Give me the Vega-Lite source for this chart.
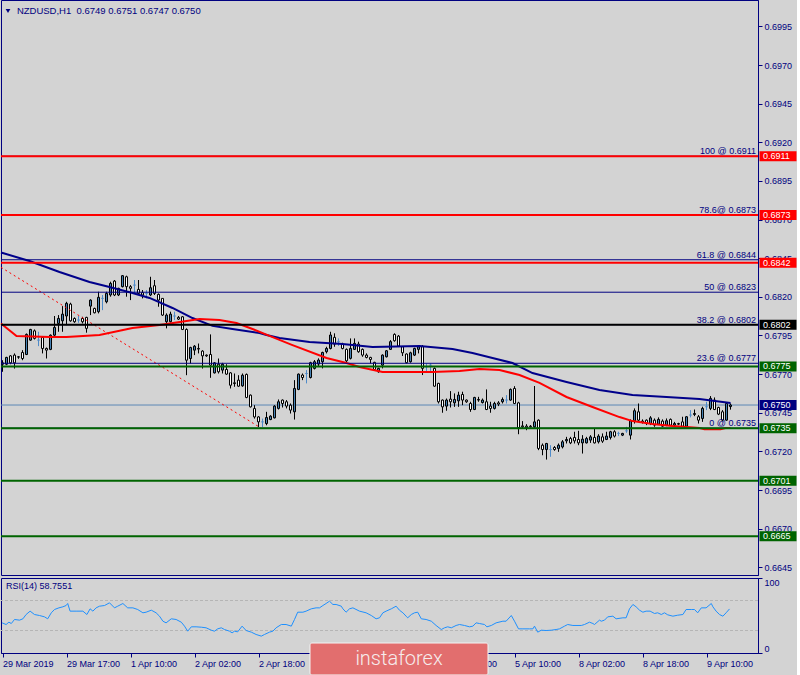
{
"$schema":"https://vega.github.io/schema/vega-lite/v6.json",
"background":"#D3D3D3",
"padding":{"left":-4,"top":-1,"right":0,"bottom":0},
"spacing":3,
"bounds":"flush",
"config":{
 "view":{"stroke":"#000080","strokeWidth":1},
 "axis":{"labelFont":"Liberation Sans","labelFontSize":9,"labelColor":"#000080","tickColor":"#000080","domainColor":"#000080","grid":false,"tickSize":4,"labelPadding":2},
 "text":{"font":"Liberation Sans"}
},
"datasets":{
"candles":[
{"i":0,"o":0.67764,"h":0.6779,"l":0.67715,"c":0.67773},
{"i":1,"o":0.67764,"h":0.67812,"l":0.67758,"c":0.67808},
{"i":2,"o":0.67818,"h":0.67823,"l":0.67764,"c":0.67773},
{"i":3,"o":0.67823,"h":0.67834,"l":0.67736,"c":0.67773},
{"i":4,"o":0.6781,"h":0.67816,"l":0.67799,"c":0.67812},
{"i":5,"o":0.6784,"h":0.67855,"l":0.6779,"c":0.67801},
{"i":6,"o":0.67827,"h":0.67963,"l":0.67823,"c":0.67957},
{"i":7,"o":0.6792,"h":0.67993,"l":0.67916,"c":0.67989},
{"i":8,"o":0.6798,"h":0.67989,"l":0.67924,"c":0.67931},
{"i":9,"o":0.6792,"h":0.67974,"l":0.67881,"c":0.6792},
{"i":10,"o":0.67937,"h":0.67942,"l":0.67834,"c":0.67866},
{"i":11,"o":0.67866,"h":0.67872,"l":0.67801,"c":0.67855},
{"i":12,"o":0.6786,"h":0.67957,"l":0.67855,"c":0.67952},
{"i":13,"o":0.67952,"h":0.68076,"l":0.67942,"c":0.68002},
{"i":14,"o":0.68028,"h":0.68082,"l":0.67974,"c":0.6806},
{"i":15,"o":0.68045,"h":0.6814,"l":0.67974,"c":0.68088},
{"i":16,"o":0.68076,"h":0.68168,"l":0.68017,"c":0.68158},
{"i":17,"o":0.68153,"h":0.68162,"l":0.68039,"c":0.68045},
{"i":18,"o":0.6806,"h":0.68067,"l":0.68032,"c":0.68039},
{"i":19,"o":0.6805,"h":0.68076,"l":0.68032,"c":0.6805},
{"i":20,"o":0.6806,"h":0.68071,"l":0.68028,"c":0.68039},
{"i":21,"o":0.68067,"h":0.68071,"l":0.67968,"c":0.67996},
{"i":22,"o":0.6814,"h":0.68184,"l":0.68082,"c":0.68179},
{"i":23,"o":0.68125,"h":0.6813,"l":0.68093,"c":0.68097},
{"i":24,"o":0.68104,"h":0.68233,"l":0.68093,"c":0.68197},
{"i":25,"o":0.6819,"h":0.68212,"l":0.68114,"c":0.6819},
{"i":26,"o":0.68168,"h":0.68233,"l":0.68158,"c":0.68222},
{"i":27,"o":0.68212,"h":0.68298,"l":0.68201,"c":0.68287},
{"i":28,"o":0.68302,"h":0.68309,"l":0.68205,"c":0.68212},
{"i":29,"o":0.68212,"h":0.68259,"l":0.68205,"c":0.68255},
{"i":30,"o":0.68266,"h":0.68341,"l":0.68261,"c":0.68337},
{"i":31,"o":0.6833,"h":0.68337,"l":0.68201,"c":0.68266},
{"i":32,"o":0.68266,"h":0.68276,"l":0.68179,"c":0.68255},
{"i":33,"o":0.68276,"h":0.68309,"l":0.68222,"c":0.68276},
{"i":34,"o":0.68248,"h":0.68309,"l":0.68212,"c":0.68222},
{"i":35,"o":0.68227,"h":0.68244,"l":0.6819,"c":0.68212},
{"i":36,"o":0.68222,"h":0.68244,"l":0.6819,"c":0.68222},
{"i":37,"o":0.68212,"h":0.6833,"l":0.68205,"c":0.68259},
{"i":38,"o":0.68272,"h":0.68309,"l":0.68212,"c":0.68222},
{"i":39,"o":0.68216,"h":0.68222,"l":0.68136,"c":0.68179},
{"i":40,"o":0.6819,"h":0.6819,"l":0.68076,"c":0.68082},
{"i":41,"o":0.68039,"h":0.68093,"l":0.67996,"c":0.68082},
{"i":42,"o":0.68039,"h":0.68104,"l":0.68034,"c":0.68088},
{"i":43,"o":0.68076,"h":0.68104,"l":0.6805,"c":0.68076},
{"i":44,"o":0.68067,"h":0.68076,"l":0.6805,"c":0.68056},
{"i":45,"o":0.68071,"h":0.68076,"l":0.67985,"c":0.67989},
{"i":46,"o":0.67989,"h":0.67996,"l":0.67693,"c":0.6779},
{"i":47,"o":0.67801,"h":0.67877,"l":0.67769,"c":0.67872},
{"i":48,"o":0.67855,"h":0.67888,"l":0.67823,"c":0.67881},
{"i":49,"o":0.67866,"h":0.67898,"l":0.67834,"c":0.67862},
{"i":50,"o":0.67849,"h":0.67855,"l":0.67736,"c":0.67818},
{"i":51,"o":0.67823,"h":0.67827,"l":0.67812,"c":0.67818},
{"i":52,"o":0.67827,"h":0.67957,"l":0.67676,"c":0.67758},
{"i":53,"o":0.67708,"h":0.67777,"l":0.67704,"c":0.67773},
{"i":54,"o":0.67764,"h":0.67801,"l":0.67704,"c":0.67715},
{"i":55,"o":0.67726,"h":0.67773,"l":0.67704,"c":0.67764},
{"i":56,"o":0.6773,"h":0.67764,"l":0.67695,"c":0.677},
{"i":57,"o":0.67708,"h":0.67713,"l":0.67607,"c":0.67628},
{"i":58,"o":0.67644,"h":0.67704,"l":0.67618,"c":0.67639},
{"i":59,"o":0.67661,"h":0.67693,"l":0.67618,"c":0.67622},
{"i":60,"o":0.67624,"h":0.67704,"l":0.67618,"c":0.67693},
{"i":61,"o":0.67698,"h":0.67704,"l":0.67544,"c":0.67549},
{"i":62,"o":0.67564,"h":0.67568,"l":0.67484,"c":0.67488},
{"i":63,"o":0.67477,"h":0.67499,"l":0.67412,"c":0.67423},
{"i":64,"o":0.67423,"h":0.67428,"l":0.67358,"c":0.67391},
{"i":65,"o":0.67391,"h":0.67412,"l":0.67358,"c":0.67391},
{"i":66,"o":0.6738,"h":0.67456,"l":0.67369,"c":0.67419},
{"i":67,"o":0.67406,"h":0.67434,"l":0.67402,"c":0.67428},
{"i":68,"o":0.67417,"h":0.67499,"l":0.67413,"c":0.67493},
{"i":69,"o":0.67478,"h":0.67536,"l":0.67471,"c":0.67521},
{"i":70,"o":0.67532,"h":0.67536,"l":0.67484,"c":0.6751},
{"i":71,"o":0.67521,"h":0.67532,"l":0.67478,"c":0.67493},
{"i":72,"o":0.67499,"h":0.6751,"l":0.67445,"c":0.67467},
{"i":73,"o":0.67456,"h":0.67661,"l":0.67406,"c":0.67607},
{"i":74,"o":0.67601,"h":0.67704,"l":0.67596,"c":0.677},
{"i":75,"o":0.67694,"h":0.67704,"l":0.67661,"c":0.67678},
{"i":76,"o":0.67704,"h":0.67726,"l":0.6764,"c":0.67704},
{"i":77,"o":0.67678,"h":0.6778,"l":0.67672,"c":0.67774},
{"i":78,"o":0.67737,"h":0.67791,"l":0.6773,"c":0.6778},
{"i":79,"o":0.67765,"h":0.67802,"l":0.67748,"c":0.67791},
{"i":80,"o":0.6778,"h":0.67845,"l":0.67737,"c":0.6784},
{"i":81,"o":0.67845,"h":0.67877,"l":0.67834,"c":0.67866},
{"i":82,"o":0.67866,"h":0.67974,"l":0.6786,"c":0.67953},
{"i":83,"o":0.67938,"h":0.67964,"l":0.67877,"c":0.67894},
{"i":84,"o":0.6791,"h":0.67931,"l":0.67882,"c":0.6791},
{"i":85,"o":0.67894,"h":0.67903,"l":0.6786,"c":0.67866},
{"i":86,"o":0.6786,"h":0.67866,"l":0.67769,"c":0.67786},
{"i":87,"o":0.67802,"h":0.67931,"l":0.67795,"c":0.67866},
{"i":88,"o":0.6786,"h":0.67931,"l":0.67856,"c":0.67899},
{"i":89,"o":0.67894,"h":0.6791,"l":0.67838,"c":0.67845},
{"i":90,"o":0.6786,"h":0.67866,"l":0.67812,"c":0.67823},
{"i":91,"o":0.67823,"h":0.67834,"l":0.67802,"c":0.67808},
{"i":92,"o":0.67808,"h":0.67812,"l":0.67769,"c":0.67795},
{"i":93,"o":0.67776,"h":0.6778,"l":0.67726,"c":0.6773},
{"i":94,"o":0.67715,"h":0.67741,"l":0.67709,"c":0.67737},
{"i":95,"o":0.67758,"h":0.67828,"l":0.67737,"c":0.67823},
{"i":96,"o":0.67812,"h":0.67856,"l":0.67808,"c":0.67851},
{"i":97,"o":0.6786,"h":0.6792,"l":0.67856,"c":0.6791},
{"i":98,"o":0.67957,"h":0.67964,"l":0.6791,"c":0.67916},
{"i":99,"o":0.67946,"h":0.67953,"l":0.67877,"c":0.67882},
{"i":100,"o":0.67877,"h":0.67882,"l":0.67817,"c":0.67838},
{"i":101,"o":0.6783,"h":0.67834,"l":0.67769,"c":0.67774},
{"i":102,"o":0.6778,"h":0.67845,"l":0.67774,"c":0.67838},
{"i":103,"o":0.67823,"h":0.67871,"l":0.67817,"c":0.67866},
{"i":104,"o":0.6786,"h":0.67888,"l":0.67834,"c":0.67877},
{"i":105,"o":0.67877,"h":0.67888,"l":0.67694,"c":0.67737},
{"i":106,"o":0.67748,"h":0.67769,"l":0.67715,"c":0.67748},
{"i":107,"o":0.67758,"h":0.67769,"l":0.67715,"c":0.67758},
{"i":108,"o":0.67737,"h":0.67743,"l":0.67618,"c":0.67622},
{"i":109,"o":0.6764,"h":0.67644,"l":0.6751,"c":0.67521},
{"i":110,"o":0.67532,"h":0.67536,"l":0.6745,"c":0.67488},
{"i":111,"o":0.67493,"h":0.67542,"l":0.67463,"c":0.67532},
{"i":112,"o":0.67538,"h":0.6759,"l":0.67484,"c":0.67521},
{"i":113,"o":0.67514,"h":0.67575,"l":0.67488,"c":0.67536},
{"i":114,"o":0.67527,"h":0.67586,"l":0.67488,"c":0.67564},
{"i":115,"o":0.67568,"h":0.67586,"l":0.67499,"c":0.67532},
{"i":116,"o":0.67532,"h":0.67536,"l":0.67514,"c":0.67521},
{"i":117,"o":0.6751,"h":0.67521,"l":0.67456,"c":0.67471},
{"i":118,"o":0.67471,"h":0.67553,"l":0.67467,"c":0.67549},
{"i":119,"o":0.67536,"h":0.67553,"l":0.67521,"c":0.67532},
{"i":120,"o":0.67516,"h":0.67542,"l":0.6751,"c":0.67532},
{"i":121,"o":0.67521,"h":0.67601,"l":0.67467,"c":0.67471},
{"i":122,"o":0.67493,"h":0.67521,"l":0.6745,"c":0.67478},
{"i":123,"o":0.67478,"h":0.67521,"l":0.67471,"c":0.6751},
{"i":124,"o":0.67514,"h":0.67525,"l":0.67493,"c":0.67506},
{"i":125,"o":0.67521,"h":0.67549,"l":0.6751,"c":0.67536},
{"i":126,"o":0.67532,"h":0.67564,"l":0.6751,"c":0.67532},
{"i":127,"o":0.67532,"h":0.67607,"l":0.67527,"c":0.67601},
{"i":128,"o":0.67607,"h":0.67622,"l":0.67506,"c":0.6751},
{"i":129,"o":0.67514,"h":0.67521,"l":0.67311,"c":0.67354},
{"i":130,"o":0.67365,"h":0.67396,"l":0.67348,"c":0.67359},
{"i":131,"o":0.67363,"h":0.67376,"l":0.67337,"c":0.67354},
{"i":132,"o":0.67363,"h":0.6737,"l":0.67355,"c":0.67359},
{"i":133,"o":0.67359,"h":0.67623,"l":0.67348,"c":0.67391},
{"i":134,"o":0.67402,"h":0.67407,"l":0.67208,"c":0.67219},
{"i":135,"o":0.6724,"h":0.67251,"l":0.67175,"c":0.67212},
{"i":136,"o":0.67212,"h":0.67255,"l":0.67147,"c":0.67251},
{"i":137,"o":0.67212,"h":0.6724,"l":0.67165,"c":0.67212},
{"i":138,"o":0.67225,"h":0.67234,"l":0.67204,"c":0.67212},
{"i":139,"o":0.67219,"h":0.67251,"l":0.67197,"c":0.6724},
{"i":140,"o":0.67229,"h":0.67273,"l":0.67219,"c":0.67262},
{"i":141,"o":0.67268,"h":0.67294,"l":0.67251,"c":0.67277},
{"i":142,"o":0.67283,"h":0.67294,"l":0.67247,"c":0.67255},
{"i":143,"o":0.6729,"h":0.67327,"l":0.67251,"c":0.67268},
{"i":144,"o":0.67277,"h":0.67333,"l":0.6724,"c":0.67255},
{"i":145,"o":0.67255,"h":0.67305,"l":0.67186,"c":0.67279},
{"i":146,"o":0.67255,"h":0.67294,"l":0.67251,"c":0.67283},
{"i":147,"o":0.67273,"h":0.67305,"l":0.67255,"c":0.67294},
{"i":148,"o":0.6729,"h":0.67348,"l":0.67251,"c":0.67255},
{"i":149,"o":0.67262,"h":0.67311,"l":0.67251,"c":0.67299},
{"i":150,"o":0.67294,"h":0.67316,"l":0.67255,"c":0.67266},
{"i":151,"o":0.67277,"h":0.67327,"l":0.67273,"c":0.67299},
{"i":152,"o":0.6729,"h":0.67333,"l":0.67277,"c":0.67327},
{"i":153,"o":0.67327,"h":0.67337,"l":0.6729,"c":0.67299},
{"i":154,"o":0.67316,"h":0.67327,"l":0.67299,"c":0.67316},
{"i":155,"o":0.67305,"h":0.6732,"l":0.67299,"c":0.67316},
{"i":156,"o":0.67333,"h":0.67359,"l":0.6732,"c":0.67333},
{"i":157,"o":0.67305,"h":0.67407,"l":0.67277,"c":0.67398},
{"i":158,"o":0.67398,"h":0.67478,"l":0.6738,"c":0.67463},
{"i":159,"o":0.67456,"h":0.6751,"l":0.67391,"c":0.67402},
{"i":160,"o":0.67396,"h":0.67407,"l":0.6738,"c":0.67389},
{"i":161,"o":0.67402,"h":0.67407,"l":0.6737,"c":0.6738},
{"i":162,"o":0.6738,"h":0.67428,"l":0.6737,"c":0.67417},
{"i":163,"o":0.67402,"h":0.67413,"l":0.67359,"c":0.6737},
{"i":164,"o":0.67376,"h":0.6742,"l":0.6737,"c":0.67407},
{"i":165,"o":0.67396,"h":0.67407,"l":0.67359,"c":0.67363},
{"i":166,"o":0.6737,"h":0.67413,"l":0.67363,"c":0.67398},
{"i":167,"o":0.67407,"h":0.67413,"l":0.67363,"c":0.6737},
{"i":168,"o":0.6737,"h":0.67391,"l":0.67363,"c":0.6738},
{"i":169,"o":0.6738,"h":0.67385,"l":0.6737,"c":0.67376},
{"i":170,"o":0.67391,"h":0.67424,"l":0.67359,"c":0.67363},
{"i":171,"o":0.67363,"h":0.67428,"l":0.67359,"c":0.67424},
{"i":172,"o":0.67435,"h":0.67467,"l":0.6742,"c":0.67435},
{"i":173,"o":0.67439,"h":0.67471,"l":0.67428,"c":0.67445},
{"i":174,"o":0.67424,"h":0.67435,"l":0.6738,"c":0.67402},
{"i":175,"o":0.67413,"h":0.67489,"l":0.67391,"c":0.67478},
{"i":176,"o":0.67489,"h":0.67521,"l":0.67467,"c":0.67489},
{"i":177,"o":0.67478,"h":0.67558,"l":0.67467,"c":0.67543},
{"i":178,"o":0.67532,"h":0.67549,"l":0.67467,"c":0.67471},
{"i":179,"o":0.67484,"h":0.67489,"l":0.67435,"c":0.67441},
{"i":180,"o":0.67456,"h":0.67467,"l":0.67396,"c":0.67402},
{"i":181,"o":0.67402,"h":0.67515,"l":0.67398,"c":0.6751},
{"i":182,"o":0.6749,"h":0.6751,"l":0.6747,"c":0.675}
],
"maSlow":[
{"i":-0.375,"v":0.68487},{"i":6.75,"v":0.68432},{"i":14.25,"v":0.68361},{"i":21.75,"v":0.68296},{"i":26.75,"v":0.68264},{"i":32.5,"v":0.68225},{"i":36.75,"v":0.68193},{"i":42.5,"v":0.68128},{"i":47.5,"v":0.68063},{"i":52.5,"v":0.68012},{"i":57.5,"v":0.67992},{"i":64.25,"v":0.67966},{"i":66,"v":0.67953},{"i":69.25,"v":0.67934},{"i":76.75,"v":0.67908},{"i":85,"v":0.67895},{"i":92.5,"v":0.67875},{"i":104.25,"v":0.67882},{"i":112.5,"v":0.67863},{"i":117.5,"v":0.67837},{"i":122.5,"v":0.67804},{"i":127.5,"v":0.67772},{"i":132.5,"v":0.67707},{"i":141,"v":0.67649},{"i":149.25,"v":0.67597},{"i":157.5,"v":0.67565},{"i":166,"v":0.67552},{"i":174.25,"v":0.67539},{"i":182,"v":0.67513}
],
"maFast":[
{"i":-0.375,"v":0.68027},{"i":3.5,"v":0.67947},{"i":11.75,"v":0.6794},{"i":16,"v":0.6794},{"i":24.25,"v":0.67953},{"i":32.5,"v":0.67998},{"i":39.25,"v":0.68018},{"i":46,"v":0.68044},{"i":49.25,"v":0.68057},{"i":54.25,"v":0.6805},{"i":58.5,"v":0.68031},{"i":62.5,"v":0.67992},{"i":66.75,"v":0.67947},{"i":72.5,"v":0.67888},{"i":81,"v":0.67804},{"i":86,"v":0.67772},{"i":89.25,"v":0.67746},{"i":95,"v":0.67714},{"i":101.75,"v":0.67714},{"i":107.5,"v":0.67714},{"i":114.25,"v":0.6772},{"i":119.25,"v":0.67733},{"i":124.25,"v":0.67727},{"i":129.25,"v":0.67694},{"i":134.25,"v":0.67643},{"i":141,"v":0.67552},{"i":147.5,"v":0.67487},{"i":154.25,"v":0.67422},{"i":157.5,"v":0.67396},{"i":162.5,"v":0.67377},{"i":167.5,"v":0.67364},{"i":171,"v":0.67357},{"i":174.25,"v":0.67351},{"i":175.5,"v":0.67344},{"i":179.5,"v":0.67344},{"i":180.75,"v":0.67351},{"i":182,"v":0.67351}
],
"fibLine":[{"i":-0.375,"v":0.68391},{"i":64.6,"v":0.67351}],
"fib":[
{"label":"100 @ 0.6911","p":0.6911},{"label":"78.6@ 0.6873","p":0.6873},{"label":"61.8 @ 0.6844","p":0.6844},{"label":"50 @ 0.6823","p":0.6823},{"label":"38.2 @ 0.6802","p":0.6802},{"label":"23.6 @ 0.6777","p":0.6777},{"label":"0 @ 0.6735","p":0.6735}
],
"levels":[
{"p":0.6911,"kind":"resistance"},{"p":0.6873,"kind":"resistance"},{"p":0.6842,"kind":"resistance"},{"p":0.6802,"kind":"pivot"},{"p":0.6775,"kind":"support"},{"p":0.675,"kind":"bid"},{"p":0.6735,"kind":"support"},{"p":0.6701,"kind":"support"},{"p":0.6665,"kind":"support"}
],
"rsi":[
{"i":-0.1,"v":40.2},{"i":0.9,"v":38.0},{"i":1.6,"v":41.1},{"i":2.2,"v":39.3},{"i":3,"v":44.7},{"i":4.25,"v":43.8},{"i":5.1,"v":45.6},{"i":5.9,"v":51.3},{"i":6.9,"v":55.8},{"i":8,"v":51.3},{"i":9.25,"v":50.0},{"i":10.5,"v":48.2},{"i":11.3,"v":45.6},{"i":12.2,"v":53.6},{"i":13,"v":58.0},{"i":14.1,"v":60.2},{"i":15.1,"v":61.6},{"i":15.9,"v":63.3},{"i":16.3,"v":66.0},{"i":16.9,"v":55.8},{"i":18.4,"v":55.8},{"i":20.1,"v":55.8},{"i":21.1,"v":51.3},{"i":21.9,"v":58.9},{"i":22.6,"v":55.8},{"i":23.4,"v":60.2},{"i":24.25,"v":62.4},{"i":25.5,"v":63.3},{"i":26.75,"v":66.9},{"i":28,"v":60.2},{"i":28.8,"v":62.4},{"i":30.1,"v":66.0},{"i":31.3,"v":60.2},{"i":32.6,"v":60.2},{"i":33.8,"v":58.0},{"i":35.1,"v":53.6},{"i":35.9,"v":54.4},{"i":37.2,"v":57.1},{"i":38.4,"v":53.6},{"i":39.25,"v":49.1},{"i":40.1,"v":42.4},{"i":40.9,"v":40.2},{"i":42.2,"v":45.6},{"i":43.4,"v":44.7},{"i":44.7,"v":41.1},{"i":45.5,"v":35.8},{"i":46.3,"v":29.1},{"i":47.2,"v":34.9},{"i":48.4,"v":34.9},{"i":49.7,"v":34.4},{"i":50.9,"v":33.6},{"i":52.2,"v":30.4},{"i":53,"v":29.1},{"i":53.8,"v":32.2},{"i":54.7,"v":33.6},{"i":55.5,"v":31.3},{"i":56.75,"v":29.1},{"i":57.4,"v":26.9},{"i":58,"v":29.1},{"i":58.8,"v":28.2},{"i":59.9,"v":35.8},{"i":60.9,"v":30.0},{"i":62.2,"v":27.8},{"i":63.4,"v":24.7},{"i":64.7,"v":22.5},{"i":65.5,"v":24.7},{"i":66.75,"v":27.8},{"i":67.6,"v":29.1},{"i":68.4,"v":33.6},{"i":69.7,"v":38.0},{"i":70.9,"v":38.0},{"i":72.2,"v":35.8},{"i":73,"v":44.7},{"i":73.8,"v":54.4},{"i":75.1,"v":54.4},{"i":75.9,"v":55.8},{"i":77.2,"v":58.9},{"i":78.4,"v":60.2},{"i":79.25,"v":60.2},{"i":80.1,"v":63.3},{"i":80.9,"v":66.0},{"i":81.75,"v":69.1},{"i":82.6,"v":64.7},{"i":83.4,"v":64.7},{"i":84.7,"v":62.4},{"i":85.1,"v":58.9},{"i":85.9,"v":54.4},{"i":86.75,"v":58.9},{"i":87.6,"v":60.2},{"i":89.25,"v":55.8},{"i":90.9,"v":53.6},{"i":92.2,"v":50.0},{"i":93.4,"v":45.6},{"i":94.25,"v":46.9},{"i":95.1,"v":53.6},{"i":95.9,"v":55.8},{"i":97.2,"v":58.9},{"i":98.4,"v":62.4},{"i":99.25,"v":57.0},
{"i":100.1,"v":53.6},{"i":100.9,"v":49.1},{"i":101.3,"v":46.9},{"i":102.2,"v":51.3},{"i":103,"v":53.6},{"i":103.8,"v":54.4},{"i":104.7,"v":45.6},{"i":105.9,"v":44.7},{"i":107.2,"v":42.4},{"i":108.4,"v":36.7},{"i":109.7,"v":31.3},{"i":110.5,"v":33.6},{"i":111.3,"v":34.9},{"i":112.2,"v":33.6},{"i":113.4,"v":36.7},{"i":114.25,"v":38.0},{"i":115.5,"v":36.7},{"i":116.75,"v":34.9},{"i":117.6,"v":35.8},{"i":118.4,"v":40.2},{"i":119.25,"v":39.3},{"i":120.5,"v":38.0},{"i":121.1,"v":34.9},{"i":122.2,"v":36.7},{"i":123.4,"v":40.2},{"i":125.1,"v":42.4},{"i":125.9,"v":42.4},{"i":127.2,"v":50.0},{"i":128,"v":42.4},{"i":129,"v":32.2},{"i":130.1,"v":32.2},{"i":131.75,"v":32.2},{"i":132.6,"v":32.2},{"i":133,"v":35.8},{"i":133.8,"v":27.8},{"i":134.7,"v":30.4},{"i":135.9,"v":30.0},{"i":137.2,"v":30.4},{"i":138.4,"v":31.3},{"i":139.25,"v":32.2},{"i":140.5,"v":35.8},{"i":141.3,"v":38.0},{"i":142.6,"v":36.7},{"i":144.7,"v":36.7},{"i":145.5,"v":38.0},{"i":146.75,"v":41.1},{"i":147.6,"v":39.3},{"i":148,"v":38.0},{"i":149.25,"v":43.8},{"i":149.7,"v":42.4},{"i":150.5,"v":43.8},{"i":151.3,"v":48.2},{"i":152.6,"v":49.1},{"i":153.4,"v":45.6},{"i":155.1,"v":46.9},{"i":155.9,"v":46.9},{"i":156.75,"v":58.9},{"i":157.6,"v":64.7},{"i":158.4,"v":61.6},{"i":159.25,"v":57.1},{"i":160.1,"v":54.4},{"i":160.9,"v":55.8},{"i":161.9,"v":55.8},{"i":163,"v":52.7},{"i":163.8,"v":53.6},{"i":164.7,"v":51.3},{"i":165.5,"v":53.6},{"i":166.3,"v":50.9},{"i":167.6,"v":49.1},{"i":168.8,"v":50.4},{"i":170.1,"v":51.3},{"i":170.9,"v":58.0},{"i":172.2,"v":58.0},{"i":173,"v":58.0},{"i":173.8,"v":53.6},{"i":174.7,"v":60.2},{"i":175.9,"v":60.2},{"i":177.2,"v":66.0},{"i":177.6,"v":61.6},{"i":178.4,"v":55.8},{"i":179.25,"v":51.3},{"i":180.1,"v":49.1},{"i":180.9,"v":53.6},{"i":181.75,"v":58.76}
]
},
"vconcat":[
{
"width":757,"height":575,
"layer":[
{"data":{"values":[{"p":0.675}]},
 "mark":{"type":"rule","stroke":"#5B87B5","strokeWidth":1},
 "encoding":{"y":{"field":"p","type":"quantitative","scale":{"domain":[0.664,0.70121],"nice":false,"zero":false},
   "axis":{"orient":"right","title":null,"values":[0.6645,0.667,0.6695,0.672,0.6745,0.677,0.6795,0.682,0.6845,0.687,0.6895,0.692,0.6945,0.697,0.6995],"format":".4f","labelOverlap":false,"labelBound":false}}}},
{"data":{"name":"candles"},
 "mark":{"type":"rule","strokeWidth":1},
 "encoding":{
  "x":{"field":"i","type":"quantitative","scale":{"domain":[-0.375,188.875],"nice":false,"zero":false},"axis":null},
  "y":{"field":"l","type":"quantitative"},"y2":{"field":"h"},
  "stroke":{"condition":{"test":"datum.o == datum.c","value":"#4F8BC9"},"value":"#000000"}}},
{"data":{"name":"candles"},
 "mark":{"type":"rect","xOffset":-1,"x2Offset":1,"strokeWidth":1},
 "encoding":{
  "x":{"field":"i","type":"quantitative"},"x2":{"field":"i"},
  "y":{"field":"o","type":"quantitative"},"y2":{"field":"c"},
  "fill":{"condition":{"test":"datum.c > datum.o","value":"#4682B4"},"value":"#FFFFFF"},
  "stroke":{"condition":{"test":"datum.o == datum.c","value":"#4F8BC9"},"value":"#000000"}}},
{"data":{"name":"fibLine"},
 "mark":{"type":"line","stroke":"#FF0000","strokeWidth":1,"strokeDash":[2,3]},
 "encoding":{"x":{"field":"i","type":"quantitative"},"y":{"field":"v","type":"quantitative"}}},
{"data":{"name":"maSlow"},
 "mark":{"type":"line","stroke":"#00008B","strokeWidth":2},
 "encoding":{"x":{"field":"i","type":"quantitative"},"y":{"field":"v","type":"quantitative"}}},
{"data":{"name":"maFast"},
 "mark":{"type":"line","stroke":"#FF0000","strokeWidth":2},
 "encoding":{"x":{"field":"i","type":"quantitative"},"y":{"field":"v","type":"quantitative"}}},
{"data":{"name":"fib"},
 "mark":{"type":"rule","stroke":"#000080","strokeWidth":1},
 "encoding":{"y":{"field":"p","type":"quantitative"}}},
{"data":{"name":"levels"},
 "transform":[{"filter":"datum.kind != 'bid'"}],
 "mark":{"type":"rule","strokeWidth":2},
 "encoding":{"y":{"field":"p","type":"quantitative"},
  "stroke":{"field":"kind","type":"nominal","scale":{"domain":["resistance","pivot","support","bid"],"range":["#FF0000","#000000","#006400","#000080"]},"legend":null}}},
{"data":{"name":"fib"},
 "mark":{"type":"text","align":"right","baseline":"alphabetic","dy":-2,"fontSize":9,"color":"#000080"},
 "encoding":{"x":{"datum":188.375,"type":"quantitative"},"y":{"field":"p","type":"quantitative"},"text":{"field":"label"}}},
{"data":{"name":"levels"},
 "mark":{"type":"rect","yOffset":-5,"y2Offset":5},
 "encoding":{"x":{"datum":189.25,"type":"quantitative"},"x2":{"datum":198.5},
  "y":{"field":"p","type":"quantitative"},"y2":{"field":"p"},
  "fill":{"field":"kind","type":"nominal","scale":{"domain":["resistance","pivot","support","bid"],"range":["#FF0000","#000000","#006400","#000080"]},"legend":null}}},
{"data":{"name":"levels"},
 "mark":{"type":"text","align":"left","baseline":"middle","fontSize":9,"color":"#FFFFFF"},
 "encoding":{"x":{"datum":190.1,"type":"quantitative"},"y":{"field":"p","type":"quantitative"},"text":{"field":"p","type":"quantitative","format":".4f"}}},
{"data":{"values":[{"p":0.7005}]},
 "mark":{"type":"point","shape":"triangle-down","filled":true,"size":22,"color":"#000080","opacity":1},
 "encoding":{"x":{"datum":1.375,"type":"quantitative"},"y":{"field":"p","type":"quantitative"}}},
{"data":{"values":[{"p":0.7005,"t":"NZDUSD,H1\u00a0 0.6749 0.6751 0.6747 0.6750"}]},
 "mark":{"type":"text","align":"left","baseline":"middle","fontSize":9.5,"color":"#000080"},
 "encoding":{"x":{"datum":3.6,"type":"quantitative"},"y":{"field":"p","type":"quantitative"},"text":{"field":"t"}}}
]
},
{
"width":757,"height":75,
"layer":[
{"data":{"values":[{"v":70},{"v":30}]},
 "mark":{"type":"rule","stroke":"#B5B5B5","strokeWidth":1,"strokeDash":[3,2]},
 "encoding":{"y":{"field":"v","type":"quantitative","scale":{"domain":[0,100],"nice":false,"zero":false},
   "axis":{"orient":"right","title":null,"values":[0,30,70,100],"labelFlush":true,"labelOverlap":false}}}},
{"data":{"name":"rsi"},
 "mark":{"type":"line","stroke":"#1E90FF","strokeWidth":1},
 "encoding":{"x":{"field":"i","type":"quantitative","scale":{"domain":[-0.375,188.875],"nice":false,"zero":false},
   "axis":{"orient":"bottom","title":null,"values":[0,16,32,48,64,80,96,112,128,144,160,176],
     "labelExpr":"['29 Mar 2019','29 Mar 17:00','1 Apr 10:00','2 Apr 02:00','2 Apr 18:00','3 Apr 10:00','4 Apr 02:00','4 Apr 18:00','5 Apr 10:00','8 Apr 02:00','8 Apr 18:00','9 Apr 10:00'][round(datum.value/16)]",
     "labelAlign":"left","labelFlush":false,"labelOverlap":false,"labelBound":false,"labelPadding":2}},
  "y":{"field":"v","type":"quantitative"}}},
{"data":{"values":[{"v":89.3,"t":"RSI(14) 58.7551"}]},
 "mark":{"type":"text","align":"left","baseline":"middle","fontSize":9,"color":"#000080"},
 "encoding":{"x":{"datum":0.9,"type":"quantitative"},"y":{"field":"v","type":"quantitative"},"text":{"field":"t"}}},
{"data":{"values":[{"top":13.3,"bottom":-29.3}]},
 "mark":{"type":"rect","fill":"#E26E6E","stroke":"#F4F4F4","strokeWidth":1,"cornerRadius":2},
 "encoding":{"x":{"datum":76.875,"type":"quantitative"},"x2":{"datum":121.375},"y":{"field":"top","type":"quantitative"},"y2":{"field":"bottom"}}},
{"data":{"values":[{"v":-8,"t":"instaforex"}]},
 "mark":{"type":"text","align":"center","baseline":"middle","font":"Roboto","fontWeight":300,"fontSize":20,"color":"#F6ECEC"},
 "encoding":{"x":{"datum":99.125,"type":"quantitative"},"y":{"field":"v","type":"quantitative"},"text":{"field":"t"}}}
]
}
]
}
